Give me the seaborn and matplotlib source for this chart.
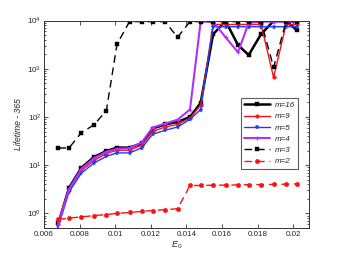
import numpy as np
import pandas as pd
import matplotlib
matplotlib.use('Agg')
import matplotlib.pyplot as plt
import seaborn as sns
from matplotlib.ticker import FixedLocator, LogLocator, NullFormatter

# E0 grid
e0 = [0.0068, 0.0074, 0.0081, 0.0088, 0.0095, 0.0101, 0.0108, 0.0115,
      0.0121, 0.0128, 0.0135, 0.0142, 0.0148, 0.0155, 0.0162, 0.0169,
      0.0175, 0.0182, 0.0189, 0.0196, 0.0202]

m16 = [0.62, 3.4, 8.9, 14.8, 19.7, 23.2, 23.2, 28.5, 57.6, 70, 79, 100, 196,
       5200, 9800, 3100, 1930, 5250, 9800, 9800, 6350]
m9 = [0.7, 3.1, 7.8, 12.5, 17.5, 20.5, 20.5, 26, 50, 62, 70, 95, 176,
      8300, 8300, 8300, 8300, 8300, 660, 8300, 8300]
m5 = [0.54, 2.8, 6.9, 11.1, 15.3, 18, 18, 23, 44, 53, 62, 89, 143,
      7450, 7450, 7450, 7450, 7450, 7450, 7450, 7450]
m4 = [0.6, 3.2, 8.5, 14, 19, 22, 22.5, 30, 60.5, 73, 88, 143, 9500,
      9500, 4500, 2200, 9000, 9500, 9500, 9500, 9500]
m3 = [22.8, 22.8, 47.6, 68.5, 136, 3250, 9500, 9500, 9500, 9500, 4500,
      9500, 9500, 9500, 9500, 9500, 9500, 9500, 1070, 9500, 9500]
m2 = [0.75, 0.8, 0.85, 0.9, 0.95, 1.0, 1.05, 1.1, 1.15, 1.2, 1.25,
      3.8, 3.8, 3.85, 3.87, 3.9, 3.95, 3.97, 4.0, 4.05, 4.1]

x_ticks = [0.006, 0.008, 0.01, 0.012, 0.014, 0.016, 0.018, 0.02]
x_tick_labels = ['0.006', '0.008', '0.01', '0.012', '0.014', '0.016', '0.018', '0.02']

series = [
    ('m=16', m16, 'black', '-', 's', 1.8, 3.4),
    ('m=9', m9, '#ff1010', '-', 'o', 1.0, 2.6),
    ('m=5', m5, '#1a3cff', '-', '*', 1.0, 3.6),
    ('m=4', m4, '#b030ff', '-', '+', 1.5, 3.5),
    ('m=3', m3, 'black', '--', 's', 1.0, 3.0),
    ('m=2', m2, '#ff1010', '--', 'o', 1.0, 3.2),
]

sns.set_theme(style='ticks')
plt.rcParams['font.family'] = ['Liberation Sans', 'DejaVu Sans']
plt.rcParams['mathtext.fontset'] = 'custom'
plt.rcParams['mathtext.rm'] = 'Liberation Sans'
plt.rcParams['mathtext.it'] = 'Liberation Sans:italic'

fig = plt.figure(figsize=(3.42, 2.57), dpi=100)
ax = fig.add_axes([0.129, 0.113, 0.775, 0.807])

for label, vals, color, ls, marker, lw, ms in series:
    df = pd.DataFrame({'E0': e0, 'life': vals})
    sns.lineplot(data=df, x='E0', y='life', ax=ax, color=color, linestyle=ls,
                 marker=marker, markersize=ms, linewidth=lw, label=label,
                 markeredgecolor=color, markeredgewidth=0.8 if marker == '+' else 0.3,
                 estimator=None, sort=False)
    if ls == '--':
        ax.lines[-1].set_dashes((5.5, 3.5))

ax.set_yscale('log')
ax.set_xlim(0.006, 0.0209)
ax.set_ylim(0.5, 1e4)
ax.xaxis.set_major_locator(FixedLocator(x_ticks))
ax.set_xticklabels(x_tick_labels)
ax.yaxis.set_major_locator(LogLocator(base=10, numticks=10))
ax.yaxis.set_minor_locator(LogLocator(base=10, subs=np.arange(2, 10), numticks=10))
ax.yaxis.set_minor_formatter(NullFormatter())
ax.tick_params(which='both', direction='in', top=True, right=True,
               labelsize=5.8, width=0.6, color='#333333', pad=2)
ax.tick_params(which='major', length=3)
ax.tick_params(which='minor', length=1.6)
for s in ax.spines.values():
    s.set_linewidth(0.7)
    s.set_color('#333333')

ax.set_xlabel('$E_0$', fontsize=6.5, style='italic', labelpad=1)
ax.set_ylabel('Lifetime - 365', fontsize=6.2, style='italic', labelpad=3)

leg = ax.legend(loc='upper left', bbox_to_anchor=(0.728, 0.645), fontsize=5.8,
                frameon=True, fancybox=False, edgecolor='#333333',
                handlelength=3.2, labelspacing=0.45, borderpad=0.4,
                handletextpad=0.6)
leg.get_frame().set_linewidth(0.8)
for t in leg.get_texts():
    t.set_fontstyle('italic')

fig.savefig('out.png', dpi=100, facecolor='white')
